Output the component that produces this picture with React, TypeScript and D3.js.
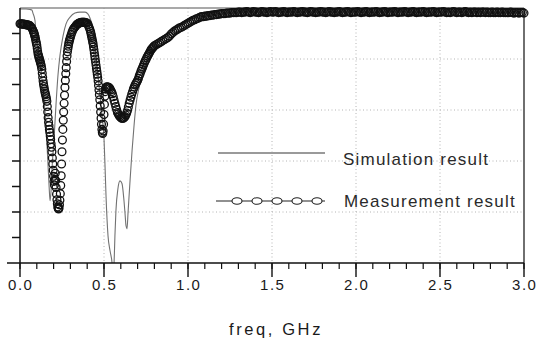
import React from 'react';
import * as d3 from 'd3';

// ---- data (freq in GHz, response in dB) ----
// Measurement sweep, stored as segments of a uniform frequency grid
const measDbA = [-3.1, -3.1, -3.2, -3.1, -3.2, -3.2, -3.2, -3.3, -3.3, -3.3, -3.4, -3.4, -3.5, -3.7, -3.9, -4.2]; // 0..0.075 step .005
const measDbB = [ // 0.08..0.2975 step .0025
  -4.6, -4.8, -5.1, -5.4, -5.7, -6.1, -6.5, -6.9,
  -7.3, -7.9, -8.5, -9.0, -9.3, -9.6, -9.9, -10.2,
  -10.5, -10.8, -11.1, -11.5, -12.0, -12.8, -13.6, -14.3,
  -14.9, -15.4, -15.9, -16.3, -16.7, -17.0, -17.4, -17.8,
  -18.3, -19.3, -20.4, -21.5, -22.4, -23.1, -23.8, -24.4,
  -25.1, -25.8, -26.6, -27.3, -28.2, -29.4, -30.6, -31.8,
  -33.0, -34.0, -34.7, -33.6, -32.4, -33.8, -35.2, -36.5,
  -37.6, -38.4, -39.0, -39.3, -39.4, -39.2, -38.6, -37.7,
  -36.4, -34.8, -32.9, -30.6, -28.2, -25.9, -23.8, -22.0,
  -20.4, -18.7, -17.1, -15.6, -14.2, -12.9, -11.7, -10.5,
  -9.4, -8.6, -8.0, -7.5, -7.0, -6.6, -6.3, -6.0,
];
const measDbC = [ // 0.30..0.415 step .005
  -5.7, -5.2, -4.7, -4.3, -4.0, -3.8, -3.6, -3.4, -3.2, -3.1, -3.0, -2.9,
  -2.9, -2.8, -2.8, -2.8, -2.8, -2.8, -2.9, -2.9, -3.0, -3.3, -3.7, -4.1,
];
const measDbD = [ // 0.42..0.5175 step .0025
  -4.6, -5.0, -5.4, -5.8, -6.2, -6.6, -7.0, -7.6,
  -8.2, -8.8, -9.4, -10.0, -10.6, -11.2, -11.8, -12.4,
  -13.0, -13.6, -14.3, -15.2, -16.1, -17.0, -18.0, -19.2,
  -20.4, -21.6, -22.8, -23.8, -24.4, -24.6, -24.1, -22.8,
  -20.9, -18.9, -17.3, -16.4, -15.9, -15.6, -15.5, -15.5,
];
const measDbE = [ // 0.52..0.795 step .005
  -15.5, -15.5, -15.6, -15.8, -16.1, -16.4, -16.8, -17.4,
  -18.1, -18.7, -19.3, -19.9, -20.5, -20.8, -21.1, -21.3,
  -21.5, -21.6, -21.6, -21.6, -21.5, -21.3, -21.0, -20.6,
  -20.1, -19.4, -18.7, -18.1, -17.5, -16.9, -16.4, -15.9,
  -15.5, -15.1, -14.8, -14.5, -14.2, -13.8, -13.3, -12.9,
  -12.4, -12.0, -11.6, -11.2, -10.8, -10.4, -10.1, -9.7,
  -9.4, -9.1, -8.8, -8.5, -8.2, -8.0, -7.8, -7.6,
];
const measDbF = [ // 0.80..3.00 step .01
  -7.4,
  -7.2, -7.0, -6.8, -6.6, -6.4, -6.2, -6.0, -5.8, -5.5, -5.1,
  -4.8, -4.5, -4.3, -4.1, -3.9, -3.8, -3.6, -3.4, -3.2, -3.0,
  -2.8, -2.6, -2.4, -2.3, -2.1, -2.0, -1.8, -1.7, -1.7, -1.6,
  -1.6, -1.5, -1.5, -1.4, -1.4, -1.3, -1.3, -1.2, -1.2, -1.1,
  -1.1, -1.1, -1.0, -1.0, -1.0, -0.9, -0.9, -0.9, -0.9, -0.8,
  -0.8, -0.9, -0.8, -0.8, -0.7, -0.8, -0.9, -0.8, -0.7, -0.8,
  -0.8, -0.9, -0.8, -0.7, -0.8, -0.8, -0.9, -0.8, -0.7, -0.8,
  -0.8, -0.7, -0.8, -0.9, -0.8, -0.8, -0.7, -0.8, -0.9, -0.8,
  -0.8, -0.8, -0.7, -0.8, -0.9, -0.8, -0.8, -0.7, -0.8, -0.8,
  -0.9, -0.8, -0.7, -0.8, -0.8, -0.9, -0.8, -0.8, -0.7, -0.8,
  -0.8, -0.9, -0.8, -0.7, -0.8, -0.8, -0.9, -0.8, -0.8, -0.7,
  -0.8, -0.9, -0.8, -0.8, -0.7, -0.8, -0.9, -0.8, -0.8, -0.8,
  -0.7, -0.8, -0.9, -0.8, -0.8, -0.7, -0.8, -0.9, -0.8, -0.8,
  -0.8, -0.7, -0.8, -0.9, -0.8, -0.8, -0.7, -0.8, -0.9, -0.8,
  -0.8, -0.8, -0.7, -0.8, -0.9, -0.8, -0.8, -0.8, -0.7, -0.8,
  -0.9, -0.8, -0.8, -0.7, -0.8, -0.9, -0.8, -0.8, -0.8, -0.7,
  -0.8, -0.9, -0.8, -0.8, -0.8, -0.7, -0.8, -0.9, -0.8, -0.8,
  -0.8, -0.7, -0.8, -0.9, -0.8, -0.9, -0.8, -0.7, -0.8, -0.9,
  -0.8, -0.8, -0.9, -0.8, -0.7, -0.8, -0.9, -0.8, -0.9, -0.8,
  -0.8, -0.9, -0.8, -0.9, -0.8, -0.8, -0.9, -0.8, -0.9, -0.9,
  -0.8, -0.9, -0.9, -0.8, -0.9, -0.9, -0.8, -0.9, -0.9, -0.9,
  -0.9, -0.8, -0.9, -1.0, -0.9, -0.9, -1.0, -0.9, -0.9, -1.0,
];

// Simulation curve
const simFreq = [0, 0.036, 0.06, 0.071, 0.077, 0.089, 0.095, 0.107, 0.119, 0.131, 0.143, 0.155, 0.161, 0.167, 0.173,
  0.179, 0.185, 0.19, 0.202, 0.214, 0.226, 0.238, 0.256, 0.274, 0.298, 0.327, 0.357, 0.387, 0.405, 0.417,
  0.429, 0.44, 0.452, 0.464, 0.476, 0.488, 0.5, 0.506, 0.512, 0.524, 0.536, 0.548, 0.554, 0.56, 0.565,
  0.571, 0.583, 0.595, 0.607, 0.619, 0.625, 0.631, 0.637, 0.643, 0.655, 0.667, 0.679, 0.69, 0.708, 0.732,
  0.762, 0.792, 0.833, 0.875, 0.911, 0.964, 1.012, 1.071, 1.149, 1.25, 1.43, 2.0, 2.5, 3.0];
const simDb = [-0.2, -0.2, -0.3, -0.4, -1.0, -2.4, -4.9, -7.9, -10.6, -14.2, -18.1, -23, -27, -30.9, -34.8,
  -37.8, -35.8, -31.9, -26, -19.1, -13.2, -9.3, -5.5, -3.1, -1.8, -1.0, -0.8, -0.8, -1.2, -2.0,
  -3.3, -5.9, -9.3, -13.2, -17.1, -21.1, -25.6, -30.9, -36.8, -44.7, -47.6, -50, -52.6, -50, -44.7,
  -39.8, -35.4, -33.9, -34.4, -37.8, -40.2, -42.7, -43.3, -40.2, -33.9, -28, -23, -19.1, -15.7, -12.6,
  -9.6, -7.9, -6.5, -5.5, -4.3, -3.3, -2.4, -1.6, -1.0, -0.6, -0.4, -0.4, -0.4, -0.4];

const xMajorTicks = [0, 0.5, 1.0, 1.5, 2.0, 2.5, 3.0];
const xGridValues = [0.5, 1.0, 1.5, 2.0, 2.5];
const yGridValues = [-40, -30, -20, -10];
const yTickValues = [-45, -40, -35, -30, -25, -20, -15, -10, -5];
const legendLabels = ['Simulation result', 'Measurement result'];
const xAxisTitle = 'freq, GHz';

function seg(start: number, step: number, vals: number[]) {
  return vals.map((v, i) => ({ f: start + i * step, db: v }));
}

const measurement = [
  ...seg(0, 0.005, measDbA),
  ...seg(0.08, 0.0025, measDbB),
  ...seg(0.3, 0.005, measDbC),
  ...seg(0.42, 0.0025, measDbD),
  ...seg(0.52, 0.005, measDbE),
  ...seg(0.8, 0.01, measDbF),
];
const simulation = simFreq.map((f, i) => ({ f, db: simDb[i] }));

const FONT = '"Liberation Sans", Arial, Helvetica, sans-serif';

export default function App() {
  const W = 538, H = 339;
  const left = 20, right = 524, top = 8, bottom = 263;
  const x = d3.scaleLinear().domain([0, 3]).range([left, right]);
  const y = d3.scaleLinear().domain([-50, 0]).range([bottom, top]);
  const minorTicks = d3.range(0, 31).map(i => i / 10);
  const fmt = d3.format('.1f');

  const simPath = d3.line<{ f: number; db: number }>()
    .x(d => x(d.f)).y(d => y(d.db)).curve(d3.curveMonotoneX)(simulation) || '';

  const gridStyle = { stroke: '#b4b4b4', strokeWidth: 1, strokeDasharray: '1,2.5' };

  // legend geometry
  const legX0 = 216, legX1 = 325, legTextX = 343;
  const legY = [153, 201];
  const legMarkers = d3.range(5).map(i => 237 + i * 20);

  return (
    <svg width={W} height={H} style={{ position: 'absolute', left: 0, top: 0, background: '#fff' }}>
      <rect width={W} height={H} fill="#fff" />
      <defs>
        <clipPath id="plotClip">
          <rect x={left} y={top} width={right - left} height={bottom - top} />
        </clipPath>
      </defs>

      {/* grid */}
      {xGridValues.map(v => (
        <line key={'gx' + v} x1={x(v)} x2={x(v)} y1={top} y2={bottom} style={gridStyle} />
      ))}
      {yGridValues.map(v => (
        <line key={'gy' + v} x1={left} x2={right} y1={y(v)} y2={y(v)} style={gridStyle} />
      ))}

      {/* frame */}
      <line x1={left} x2={right} y1={top} y2={top} stroke="#8c8c8c" strokeWidth={1.6} />
      <line x1={right} x2={right} y1={top} y2={bottom} stroke="#333" strokeWidth={1.4} />

      {/* simulation */}
      <g clipPath="url(#plotClip)">
        <path d={simPath} fill="none" stroke="#727272" strokeWidth={1.1} />
      </g>

      {/* measurement */}
      <g>
        {measurement.map((d, i) => (
          <circle key={i} cx={x(d.f)} cy={y(d.db)} r={3.9} fill="none" stroke="#111" strokeWidth={1.3} />
        ))}
      </g>

      {/* y axis */}
      <line x1={left} x2={left} y1={top} y2={bottom} stroke="#111" strokeWidth={1.5} />
      {yTickValues.map(v => (
        <line key={'yt' + v} x1={left - 8} x2={left} y1={y(v)} y2={y(v)} stroke="#111" strokeWidth={1.5} />
      ))}

      {/* x axis */}
      <line x1={7} x2={right} y1={bottom} y2={bottom} stroke="#111" strokeWidth={1.5} />
      {minorTicks.map(v => (
        <line key={'mt' + v} x1={x(v)} x2={x(v)} y1={bottom} y2={bottom + 6} stroke="#111" strokeWidth={1.2} />
      ))}
      {xMajorTicks.map(v => (
        <line key={'Mt' + v} x1={x(v)} x2={x(v)} y1={bottom} y2={bottom + 14} stroke="#111" strokeWidth={1.4} />
      ))}
      {xMajorTicks.map(v => (
        <text key={'xl' + v} x={x(v) + 0.8} y={290} textAnchor="middle" fontFamily={FONT} fontSize={15}
          fill="#1a1a1a" style={{ letterSpacing: '1.5px' }}>{fmt(v)}</text>
      ))}
      <text x={276} y={335} textAnchor="middle" fontFamily={FONT} fontSize={16.5} fill="#1a1a1a"
        style={{ letterSpacing: '2.6px' }}>{xAxisTitle}</text>

      {/* legend */}
      <line x1={legX0 + 2} x2={legX1} y1={legY[0]} y2={legY[0]} stroke="#9a9a9a" strokeWidth={2} />
      <text x={legTextX} y={legY[0] + 12} fontFamily={FONT} fontSize={17} fill="#2a2a2a"
        style={{ letterSpacing: '1.2px' }}>{legendLabels[0]}</text>
      <line x1={legX0} x2={legX1} y1={legY[1]} y2={legY[1]} stroke="#222" strokeWidth={1.2} />
      {legMarkers.map(mx => (
        <ellipse key={'lm' + mx} cx={mx} cy={legY[1]} rx={5} ry={3.3} fill="#fff" stroke="#222" strokeWidth={1.1} />
      ))}
      <text x={legTextX + 1} y={legY[1] + 6} fontFamily={FONT} fontSize={17} fill="#2a2a2a"
        style={{ letterSpacing: '1.2px' }}>{legendLabels[1]}</text>
    </svg>
  );
}
